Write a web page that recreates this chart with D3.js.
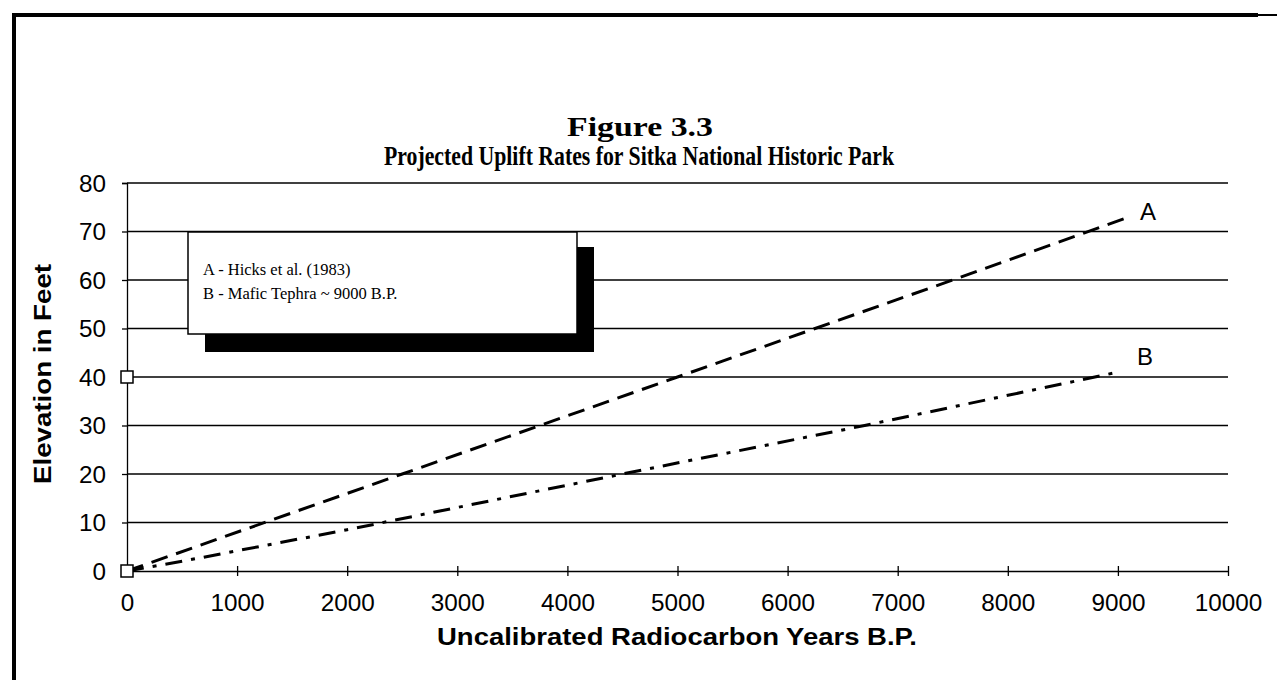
<!DOCTYPE html>
<html>
<head>
<meta charset="utf-8">
<script src="https://cdn.jsdelivr.net/npm/d3@7"></script>
<style>
  html, body { margin: 0; padding: 0; background: #fff; }
  svg { display: block; }
</style>
</head>
<body>
<svg id="chart" width="1277" height="680"></svg>
<script>
// ---- data ----
const titleLines = ["Figure  3.3", "Projected Uplift Rates for Sitka National Historic Park"];
const xLabel = "Uncalibrated Radiocarbon Years B.P.";
const yLabel = "Elevation in Feet";
const xTicks = [0, 1000, 2000, 3000, 4000, 5000, 6000, 7000, 8000, 9000, 10000];
const yTicks = [0, 10, 20, 30, 40, 50, 60, 70, 80];
const seriesNames = ["A", "B"];
const legendLines = ["A - Hicks et al. (1983)", "B - Mafic Tephra ~ 9000 B.P."];
const aYears = [0, 2500, 5000, 7500, 9100];
const aElev = [0, 20, 40, 60, 73];
const bYears = [0, 500, 2000, 4500, 6700, 9000];
const bElev = [0, 2, 8.5, 20, 30, 41];
const markerYears = [0, 0];
const markerElev = [0, 40];

(function () {
const svg = d3.select("#chart");
const pLeft = 127, pRight = 1228, pTop = 183, pBottom = 571;
const x = d3.scaleLinear().domain([0, 10000]).range([pLeft, pRight]);
const y = d3.scaleLinear().domain([0, 80]).range([pBottom, pTop]);

// frame
svg.append("path").attr("d", `M14,680 L14,15 L1258,15`).attr("fill", "none")
  .attr("stroke", "#000").attr("stroke-width", 4);
svg.append("path").attr("d", `M1258,15 L1277,15`).attr("stroke", "#000").attr("stroke-width", 2);

// title
const tf = "'Liberation Serif', 'Times New Roman', serif";
svg.append("text").attr("x", 640).attr("y", 136).attr("text-anchor", "middle")
  .attr("font-family", tf).attr("font-weight", "bold").attr("font-size", 28)
  .attr("textLength", 146).attr("lengthAdjust", "spacingAndGlyphs").text(titleLines[0]);
svg.append("text").attr("x", 639).attr("y", 165).attr("text-anchor", "middle")
  .attr("font-family", tf).attr("font-weight", "bold").attr("font-size", 28)
  .attr("textLength", 510).attr("lengthAdjust", "spacingAndGlyphs").text(titleLines[1]);

const af = "'Liberation Sans', Arial, sans-serif";
const fmt = d3.format("d");

// gridlines
svg.append("g").selectAll("line").data(yTicks.filter(d => d > 0)).join("line")
  .attr("x1", pLeft).attr("x2", pRight).attr("y1", d => y(d)).attr("y2", d => y(d))
  .attr("stroke", "#000").attr("stroke-width", 1.6);

// y axis
const yAxis = svg.append("g").attr("transform", `translate(${pLeft},0)`)
  .call(d3.axisLeft(y).tickValues(yTicks).tickFormat(fmt).tickSize(5).tickPadding(16));
yAxis.select(".domain").attr("stroke-width", 1.3);
yAxis.selectAll(".tick line").attr("stroke-width", 1.3);
yAxis.selectAll("text").attr("font-family", af).attr("font-size", 23).attr("fill", "#000")
  .attr("dy", "0.36em")
  .attr("textLength", function () { return this.textContent.length * 13.5; })
  .attr("lengthAdjust", "spacingAndGlyphs");

// x axis
const xAxis = svg.append("g").attr("transform", `translate(0,${pBottom})`)
  .call(d3.axisBottom(x).tickValues(xTicks).tickFormat(fmt).tickSize(5).tickPadding(19).tickSizeOuter(0));
xAxis.select(".domain").attr("stroke-width", 1.6);
xAxis.selectAll(".tick line").attr("y1", -5).attr("y2", 5).attr("stroke-width", 1.3);
xAxis.selectAll("text").attr("font-family", af).attr("font-size", 23).attr("fill", "#000")
  .attr("textLength", function () { return this.textContent.length * 13.5; })
  .attr("lengthAdjust", "spacingAndGlyphs");

// axis titles
svg.append("text").attr("x", 677).attr("y", 645).attr("text-anchor", "middle")
  .attr("font-family", af).attr("font-weight", "bold").attr("font-size", 23)
  .attr("textLength", 480).attr("lengthAdjust", "spacingAndGlyphs")
  .text(xLabel);
svg.append("text").attr("transform", `translate(51,374) rotate(-90)`).attr("text-anchor", "middle")
  .attr("font-family", af).attr("font-weight", "bold").attr("font-size", 23)
  .attr("textLength", 220).attr("lengthAdjust", "spacingAndGlyphs")
  .text(yLabel);

// series
const line = d3.line().x(d => x(d[0])).y(d => y(d[1]));
const aData = aYears.map((v, i) => [v, aElev[i]]);
const bData = bYears.map((v, i) => [v, bElev[i]]);
svg.append("path").datum(aData).attr("d", line).attr("fill", "none")
  .attr("stroke", "#000").attr("stroke-width", 3).attr("stroke-dasharray", "17,9");
svg.append("path").datum(bData).attr("d", line).attr("fill", "none")
  .attr("stroke", "#000").attr("stroke-width", 3).attr("stroke-dasharray", "17,9,4,9");

// series labels
svg.append("text").attr("x", x(aYears[aYears.length - 1]) + 11).attr("y", y(aElev[aElev.length - 1]) + 3)
  .attr("font-family", af).attr("font-size", 24).text(seriesNames[0]);
svg.append("text").attr("x", x(bYears[bYears.length - 1]) + 19).attr("y", y(bElev[bElev.length - 1]) - 7)
  .attr("font-family", af).attr("font-size", 24).text(seriesNames[1]);

// markers
svg.append("g").selectAll("rect").data(markerYears.map((v, i) => [v, markerElev[i]])).join("rect")
  .attr("x", d => x(d[0]) - 6).attr("y", d => y(d[1]) - 6).attr("width", 12).attr("height", 12)
  .attr("fill", "#fff").attr("stroke", "#000").attr("stroke-width", 1.5);

// legend
const lg = svg.append("g");
lg.append("rect").attr("x", 205).attr("y", 247).attr("width", 389).attr("height", 105).attr("fill", "#000");
lg.append("rect").attr("x", 188).attr("y", 232).attr("width", 389).attr("height", 102)
  .attr("fill", "#fff").attr("stroke", "#000").attr("stroke-width", 1.5);
lg.selectAll("text.leg").data(legendLines).join("text").attr("class", "leg")
  .attr("x", 203).attr("y", (d, i) => 275 + i * 24)
  .attr("font-family", tf).attr("font-size", 16.5).text(d => d);
})();
</script>
</body>
</html>
